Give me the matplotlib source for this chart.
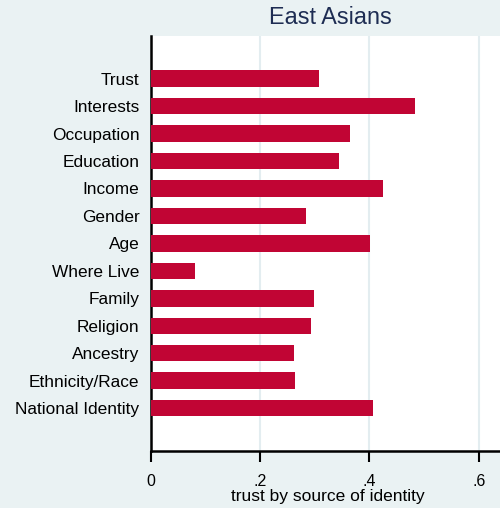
import matplotlib

matplotlib.use("Agg")
import matplotlib.pyplot as plt
import numpy as np

# trust by source of identity, East Asians (top to bottom as drawn)
categories = ["Trust", "Interests", "Occupation", "Education", "Income", "Gender", "Age",
              "Where Live", "Family", "Religion", "Ancestry", "Ethnicity/Race", "National Identity"]
values = [0.308, 0.483, 0.365, 0.345, 0.424, 0.284, 0.401,
          0.081, 0.298, 0.294, 0.263, 0.264, 0.406]
xticks = [0, 0.2, 0.4, 0.6]
xtick_labels = ["0", ".2", ".4", ".6"]

BG = "#EAF2F3"
BAR = "#C10534"
NAVY = "#1E2D53"

plt.rcParams["font.family"] = ["Liberation Sans", "DejaVu Sans"]

fig = plt.figure(figsize=(5.0, 5.08), dpi=100, facecolor=BG)
ax = fig.add_axes([0.301, 0.1128, 0.699, 0.8162])
ax.set_facecolor("white")

pos = np.arange(len(categories))
ax.barh(pos, values, height=0.6, color=BAR, zorder=3)
ax.set_ylim(len(categories) - 1 + 1.55, -1.55)
ax.set_xlim(0, 0.6384)

ax.set_yticks(pos)
ax.set_yticklabels(categories, fontsize=12.4)
ax.tick_params(axis="y", length=0, pad=8)
ax.set_xticks(xticks)
ax.set_xticklabels(xtick_labels, fontsize=11.5)
ax.tick_params(axis="x", length=8, width=1.5, pad=9)
ax.grid(axis="x", color="#E3EDF0", linewidth=1.5, zorder=0)

for side in ("top", "right"):
    ax.spines[side].set_visible(False)
for side in ("left", "bottom"):
    ax.spines[side].set_linewidth(1.8)
    ax.spines[side].set_color("black")

fig.text(330 / 500, 1 - 18 / 508, "East Asians", ha="center", va="center", fontsize=16.8, color=NAVY)
fig.text(328 / 500, 1 - 496 / 508, "trust by source of identity", ha="center", va="center", fontsize=12.5)

fig.savefig("out.png", dpi=100, facecolor=BG)
